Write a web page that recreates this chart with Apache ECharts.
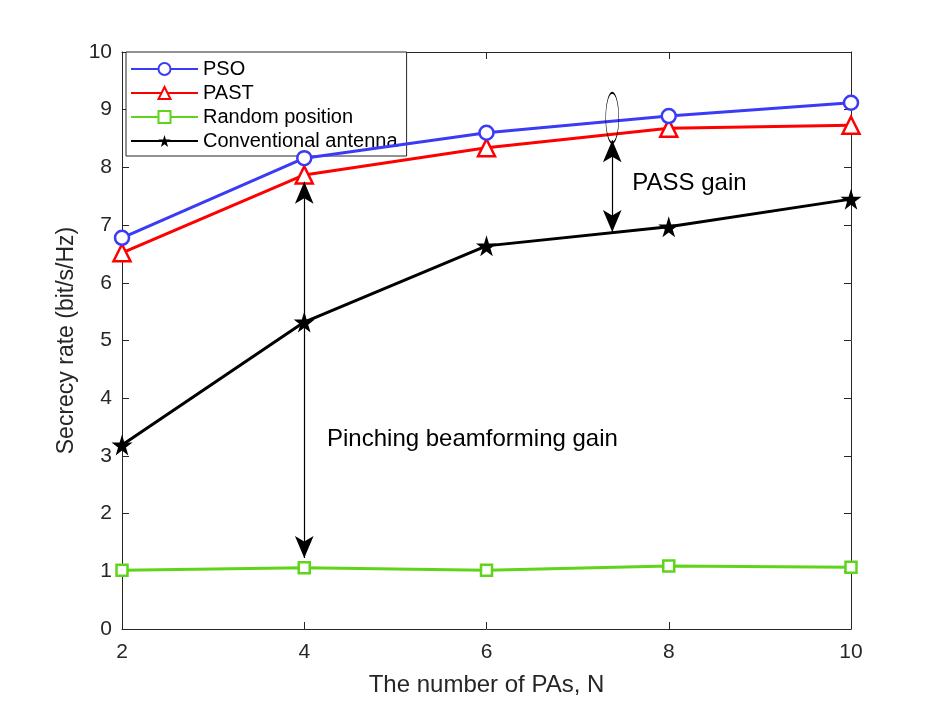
<!DOCTYPE html>
<html><head><meta charset="utf-8">
<script src="https://cdn.jsdelivr.net/npm/echarts@6/dist/echarts.min.js"></script>
<style>html,body{margin:0;padding:0;background:#fff}#c{width:941px;height:706px}</style>
</head><body><div id="c"></div>
<script>
const categories = [2, 4, 6, 8, 10];
const pso = [6.78, 8.16, 8.60, 8.89, 9.12];
const past = [6.52, 7.87, 8.34, 8.68, 8.73];
const randomPos = [1.02, 1.06, 1.02, 1.09, 1.07];
const conventional = [3.19, 5.32, 6.64, 6.97, 7.45];
const xTicks = [2, 4, 6, 8, 10];
const yTicks = [0,1,2,3,4,5,6,7,8,9,10];

const font = 'Liberation Sans, Arial, sans-serif';
const axisCol = '#262626';
const pairs = arr => categories.map((c, i) => [c, arr[i]]);

const chart = echarts.init(document.getElementById('c'));
const axisCommon = {
  axisLine: {show: true, onZero: false, lineStyle: {color: axisCol, width: 1}},
  axisTick: {show: true, inside: true, length: 7, lineStyle: {color: axisCol}},
  splitLine: {show: false}
};
chart.setOption({
  animation: false,
  grid: {left: 122, right: 90, top: 52, bottom: 77},
  xAxis: [
    Object.assign({type: 'value', min: 2, max: 10, interval: 2,
      name: 'The number of PAs, N', nameLocation: 'middle', nameGap: 44,
      nameTextStyle: {fontFamily: font, fontSize: 24, color: axisCol},
      axisLabel: {fontFamily: font, fontSize: 21, color: axisCol, margin: 13}}, axisCommon),
    Object.assign({type: 'value', min: 2, max: 10, interval: 2, position: 'top',
      axisLabel: {show: false}}, axisCommon)
  ],
  yAxis: [
    Object.assign({type: 'value', min: 0, max: 10, interval: 1,
      name: 'Secrecy rate (bit/s/Hz)', nameLocation: 'middle', nameGap: 41,
      nameTextStyle: {fontFamily: font, fontSize: 23, color: axisCol},
      axisLabel: {fontFamily: font, fontSize: 21, color: axisCol, margin: 10}}, axisCommon),
    Object.assign({type: 'value', min: 0, max: 10, interval: 1, position: 'right',
      axisLabel: {show: false}}, axisCommon)
  ],
  legend: {
    left: 126, top: 52, orient: 'vertical',
    backgroundColor: '#fff', borderColor: '#262626', borderWidth: 1,
    padding: [7, 9, 5, 4], itemGap: 4, itemWidth: 67, itemHeight: 15,
    textStyle: {fontFamily: font, fontSize: 20, lineHeight: 20, color: '#000'},
    data: ['PSO', 'PAST', 'Random position', 'Conventional antenna']
  },
  series: [
    {name: 'PSO', type: 'line', data: pairs(pso), symbol: 'circle', symbolSize: 14,
      lineStyle: {color: '#3b3bf5', width: 3}, itemStyle: {color: '#fff', borderColor: '#3b3bf5', borderWidth: 2.5}, color: '#3b3bf5', z: 4},
    {name: 'PAST', type: 'line', data: pairs(past), symbol: 'triangle', symbolSize: 17,
      lineStyle: {color: '#ff0000', width: 3}, itemStyle: {color: '#fff', borderColor: '#ff0000', borderWidth: 2.5}, color: '#ff0000', z: 3},
    {name: 'Random position', type: 'line', data: pairs(randomPos), symbol: 'rect', symbolSize: 11,
      lineStyle: {color: '#5fd41a', width: 3}, itemStyle: {color: '#fff', borderColor: '#5fd41a', borderWidth: 2.5}, color: '#5fd41a', z: 3},
    {name: 'Conventional antenna', type: 'line', data: pairs(conventional), symbol: 'path://M50,0 L61,35 L98,35 L68,57 L79,91 L50,70 L21,91 L32,57 L2,35 L39,35 Z', symbolSize: 21,
      lineStyle: {color: '#000', width: 3}, itemStyle: {color: '#000'}, color: '#000', z: 3,
      markLine: {
        silent: true, symbol: ['arrow', 'arrow'], symbolSize: [14, 22],
        lineStyle: {color: '#000', width: 1.2, type: 'solid'}, label: {show: false},
        data: [
          [{coord: [4, 7.75]}, {coord: [4, 1.23]}],
          [{coord: [7.38, 8.47]}, {coord: [7.38, 6.88]}]
        ]
      },
      markPoint: {
        silent: true,
        data: [
          {coord: [7.38, 8.86], symbol: 'circle', symbolSize: [13, 50],
            itemStyle: {color: 'rgba(0,0,0,0)', borderColor: '#000', borderWidth: 1}, label: {show: false}},
          {coord: [4.25, 3.28], symbol: 'circle', symbolSize: 0, itemStyle: {color: 'rgba(0,0,0,0)'},
            label: {show: true, position: 'right', distance: 0, formatter: 'Pinching beamforming gain', fontFamily: font, fontSize: 24, color: '#000'}},
          {coord: [7.6, 7.73], symbol: 'circle', symbolSize: 0, itemStyle: {color: 'rgba(0,0,0,0)'},
            label: {show: true, position: 'right', distance: 0, formatter: 'PASS gain', fontFamily: font, fontSize: 24, color: '#000'}}
        ]
      }
    }
  ]
});
</script></body></html>
